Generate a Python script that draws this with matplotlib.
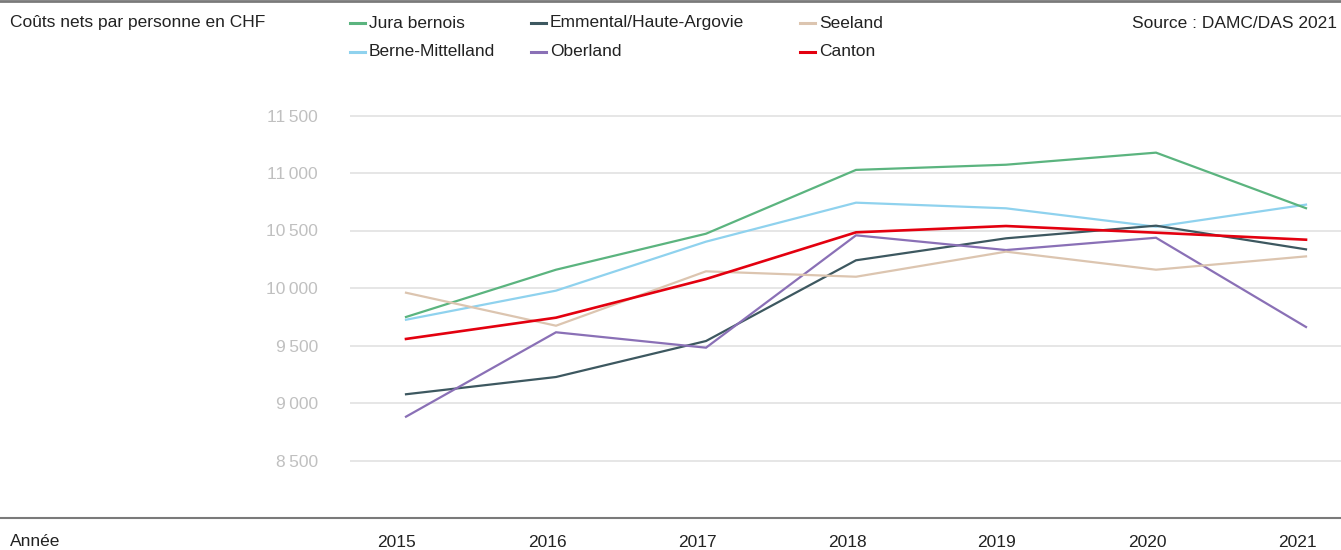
import numpy as np
import matplotlib.pyplot as plt
from matplotlib.lines import Line2D
from matplotlib.transforms import ScaledTranslation

plt.rcParams['font.family'] = ['Liberation Sans', 'DejaVu Sans']

years = [2015, 2016, 2017, 2018, 2019, 2020, 2021]

jura = [9748, 10159, 10472, 11027, 11072, 11177, 10694]
berne = [9724, 9977, 10403, 10742, 10693, 10533, 10725]
emmental = [9076, 9226, 9539, 10241, 10432, 10542, 10336]
oberland = [8881, 9615, 9481, 10458, 10330, 10437, 9661]
seeland = [9959, 9672, 10145, 10098, 10316, 10159, 10275]
canton = [9557, 9742, 10078, 10484, 10539, 10481, 10420]

# legend order, row by row
names = ["Jura bernois", "Emmental/Haute-Argovie", "Seeland",
         "Berne-Mittelland", "Oberland", "Canton"]
series = [jura, emmental, seeland, berne, oberland, canton]
colors = ["#5bb47f", "#3d5860", "#dcc5b0", "#8fd2ee", "#8a70b6", "#e3000f"]
widths = [1.6, 1.6, 1.6, 1.6, 1.6, 1.9]

yticks = [8500, 9000, 9500, 10000, 10500, 11000, 11500]

W, H = 1341, 550
FS = 12.5
fig = plt.figure(figsize=(W / 100, H / 100), dpi=100)
ax = fig.add_axes([350 / W, 1 - 518 / H, 1 - 350 / W, (518 - 81) / H])

# draw Canton last so it sits on top
order = [3, 0, 1, 4, 2, 5]
for i in order:
    ax.plot(years, series[i], color=colors[i], lw=widths[i], zorder=3,
            solid_joinstyle='miter')

ax.set_xlim(2015 - 56 / 150, 2021 + 35 / 150)
ax.set_ylim(8000, 8000 + (518 - 81) / 0.115)
ax.set_yticks(yticks)
ax.set_yticklabels([f"{v:,}".replace(",", "\u2009") for v in yticks],
                   color="#c0c0c0", fontsize=FS)
ax.set_xticks(years)
ax.set_xticklabels([str(y) for y in years], color="#222222", fontsize=FS)
ax.tick_params(axis='y', length=0, pad=23)
ax.tick_params(axis='x', length=0, pad=12)
for lab in ax.get_xticklabels():
    lab.set_transform(lab.get_transform() + ScaledTranslation(-0.09, 0, fig.dpi_scale_trans))
ax.grid(axis='y', color="#e2e2e2", lw=1.2)
ax.set_axisbelow(True)
for s in ax.spines.values():
    s.set_visible(False)

# full-width rules at top and along the x axis
fig.add_artist(Line2D([0, 1], [1 - 1 / H, 1 - 1 / H], color="#7a7a7a", lw=2))
fig.add_artist(Line2D([0, 1], [1 - 518 / H, 1 - 518 / H], color="#7a7a7a", lw=1.5))

fig.text(10 / W, 1 - 23 / H, "Coûts nets par personne en CHF", fontsize=FS,
         color="#222222", va='center')
fig.text(1337 / W, 1 - 23 / H, "Source : DAMC/DAS 2021", fontsize=FS,
         color="#222222", va='center', ha='right')
fig.text(10 / W, 1 - 541 / H, "Année", fontsize=FS, color="#222222", va='center')

# legend, placed by hand
col_x = [350, 531, 800]
row_y = [23, 52]
for k, name in enumerate(names):
    x0 = col_x[k % 3]
    y0 = 1 - row_y[k // 3] / H
    fig.add_artist(Line2D([x0 / W, (x0 + 15) / W], [y0, y0], color=colors[k], lw=2.2))
    fig.text((x0 + 19) / W, y0, name, fontsize=FS, color="#222222", va='center')

fig.savefig("out.png", dpi=100)
